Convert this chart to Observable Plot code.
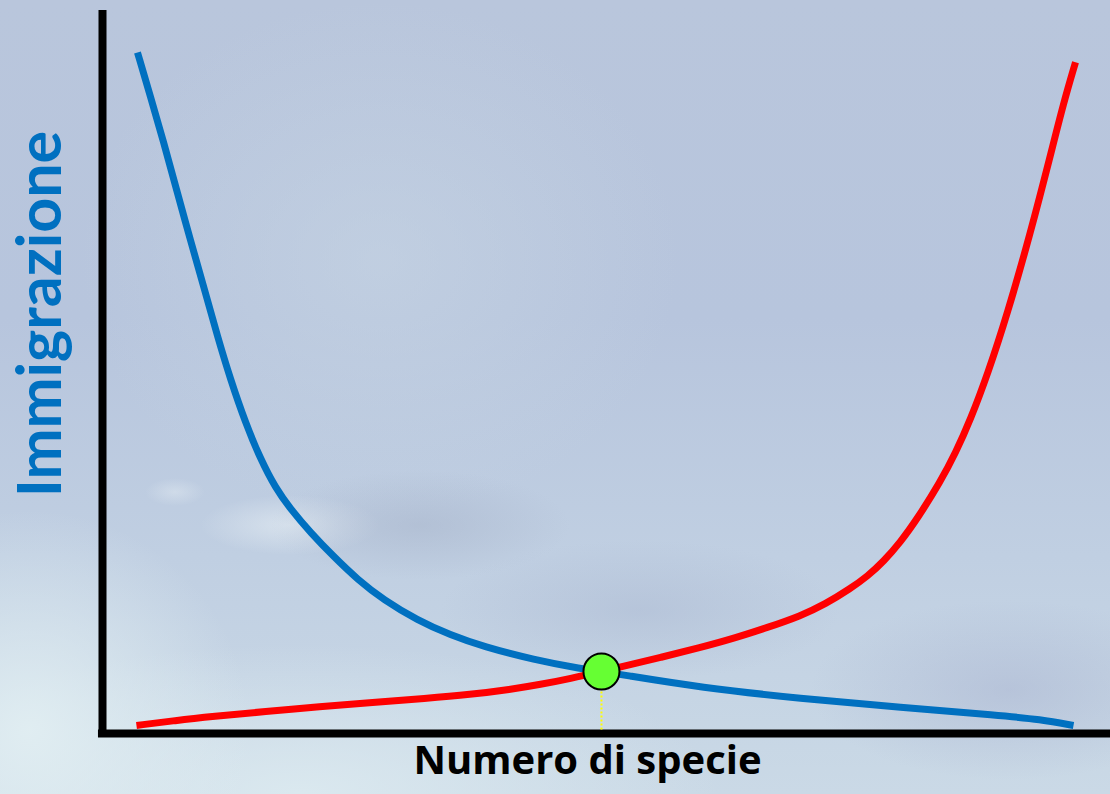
<!DOCTYPE html>
<html>
<head>
<meta charset="utf-8">
<script src="https://cdn.jsdelivr.net/npm/d3@7"></script>
<script src="https://cdn.jsdelivr.net/npm/@observablehq/plot@0.6"></script>
<style>
  html, body { margin: 0; padding: 0; }
  #chart {
    width: 1110px; height: 794px; position: relative; overflow: hidden;
    background:
      radial-gradient(ellipse 150px 55px at 420px 525px, rgba(160,172,195,0.4), rgba(160,172,195,0) 100%),
      radial-gradient(ellipse 90px 30px at 290px 525px, rgba(240,246,248,0.5), rgba(240,246,248,0) 100%),
      radial-gradient(ellipse 30px 14px at 175px 492px, rgba(240,246,248,0.35), rgba(240,246,248,0) 100%),
      radial-gradient(ellipse 200px 70px at 640px 610px, rgba(165,178,205,0.4), rgba(165,178,205,0) 100%),
      radial-gradient(ellipse 200px 90px at 1010px 690px, rgba(165,175,205,0.45), rgba(165,175,205,0) 100%),
      radial-gradient(ellipse 220px 220px at 30px 730px, rgba(225,238,242,0.95), rgba(225,238,242,0) 100%),
      radial-gradient(ellipse 420px 150px at 300px 794px, rgba(220,234,240,0.9), rgba(220,234,240,0) 100%),
      radial-gradient(ellipse 300px 260px at 380px 260px, rgba(200,214,228,0.55), rgba(200,214,228,0) 100%),
      linear-gradient(180deg, #b9c6dc 0%, #b7c5dd 40%, #c0cfe2 70%, #cad9e6 100%);
  }
  #chart svg { position: absolute; left: 0; top: 0; }
</style>
</head>
<body>
<div id="chart"></div>
<script>
// Blue curve (immigration) — x: species number (0–100), y: rate (0–100)
const blueX = [3.47, 4.76, 6.05, 7.34, 8.73, 10.12, 11.41, 12.70, 14.19, 15.67, 17.16, 18.65, 20.63, 22.92, 25.30, 27.88, 31.25, 34.52, 37.80, 42.76, 47.72, 49.50, 51.39, 59.33, 69.25, 79.17, 89.09, 93.06, 96.33];
const blueY = [94.19, 88.10, 81.88, 75.24, 68.19, 61.41, 54.91, 48.96, 42.95, 37.97, 33.96, 31.05, 27.80, 24.48, 21.30, 18.49, 15.66, 13.61, 12.01, 10.21, 8.89, 8.58, 8.16, 6.36, 4.84, 3.60, 2.49, 1.94, 1.11];
// Red curve (extinction)
const redX = [3.37, 7.24, 10.91, 16.17, 21.53, 26.79, 32.04, 36.51, 40.48, 43.45, 46.43, 49.50, 51.39, 55.36, 59.33, 62.60, 65.97, 69.25, 71.73, 74.21, 75.89, 77.48, 79.17, 80.85, 83.13, 84.62, 86.11, 87.80, 89.78, 92.06, 94.05, 95.34, 96.53];
const redY = [1.11, 1.80, 2.35, 3.04, 3.73, 4.29, 4.84, 5.39, 6.09, 6.78, 7.61, 8.58, 9.20, 10.51, 11.89, 13.14, 14.66, 16.25, 17.91, 20.06, 21.74, 23.78, 26.49, 29.74, 34.83, 38.77, 43.43, 49.65, 58.09, 69.23, 80.01, 87.21, 92.85];
// Equilibrium point
const eqX = [49.5];
const eqY = [8.58];
// Labels
const yLabel = "Immigrazione";
const xLabel = "Numero di specie";

const blue = blueX.map((x, i) => ({x, y: blueY[i]}));
const red = redX.map((x, i) => ({x, y: redY[i]}));
const eq = eqX.map((x, i) => ({x, y: eqY[i]}));

const chart = Plot.plot({
  width: 1110,
  height: 794,
  marginLeft: 102,
  marginRight: 0,
  marginTop: 10,
  marginBottom: 61,
  style: {background: "transparent", overflow: "visible"},
  x: {domain: [0, 100], axis: null},
  y: {domain: [0, 100], axis: null},
  marks: [
    Plot.ruleX([0], {y1: -0.55, y2: 100, stroke: "black", strokeWidth: 8}),
    Plot.ruleY([0], {x1: -0.4, x2: 100, stroke: "black", strokeWidth: 8}),
    Plot.ruleX(eq, {x: "x", y1: 0.5, y2: "y", stroke: "#ffff00", strokeWidth: 2, strokeDasharray: "2,2"}),
    Plot.line(blue, {x: "x", y: "y", stroke: "#0070C0", strokeWidth: 7, curve: "basis", strokeLinecap: "butt"}),
    Plot.line(red, {x: "x", y: "y", stroke: "#FF0000", strokeWidth: 7, curve: "basis", strokeLinecap: "butt"}),
    Plot.dot(eq, {x: "x", y: "y", r: 18, fill: "#66FF33", stroke: "black", strokeWidth: 2}),
    Plot.text([yLabel], {frameAnchor: "left", rotate: -90, dx: -42, dy: -58, lineAnchor: "bottom", textAnchor: "middle",
      fill: "#0070C0", fontSize: 61, fontWeight: "bold", fontFamily: "Lato"}),
    Plot.text([xLabel], {frameAnchor: "bottom", dx: -19, dy: 12, lineAnchor: "top", textAnchor: "middle",
      fill: "black", fontSize: 40, fontWeight: "bold", fontFamily: "Open Sans"})
  ]
});
document.getElementById("chart").appendChild(chart);
</script>
</body>
</html>
